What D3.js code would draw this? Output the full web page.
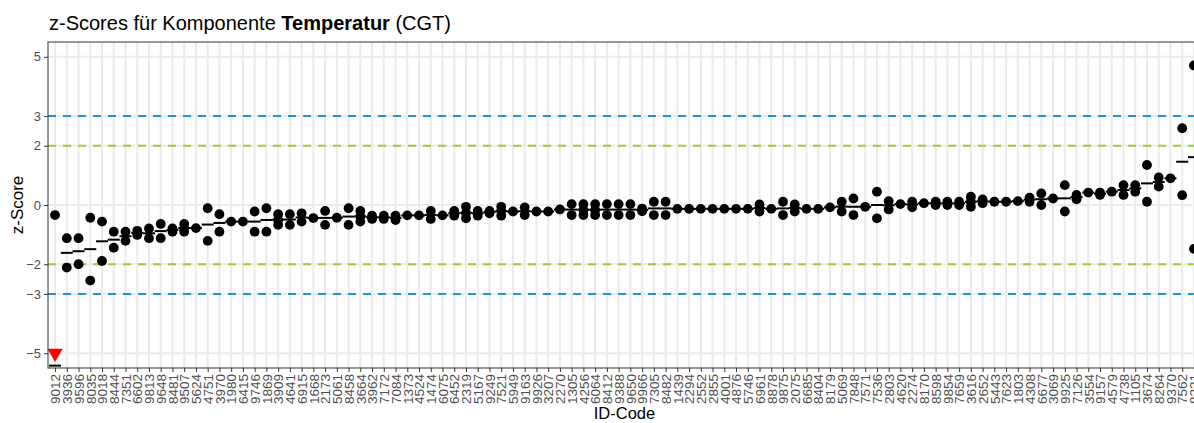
<!DOCTYPE html>
<html>
<head>
<meta charset="utf-8">
<script src="https://cdn.jsdelivr.net/npm/d3@7"></script>
<style>
  body { margin: 0; background: #fff; }
  svg { font-family: "Liberation Sans", Arial, sans-serif; }
</style>
</head>
<body>
<div id="chart"></div>
<script>
const ids = ["9012","3936","9596","8035","9018","8444","7351","6602","9813","9648",
  "8481","9507","5624","4751","3970","1980","6415","9746","1869","3909",
  "4641","6915","1668","2173","5061","8458","3664","3962","7172","7084",
  "1373","4524","1474","6075","6452","2319","5167","9249","7521","5949",
  "9163","9926","3207","2270","1305","4256","6064","8412","9388","9650",
  "9966","7305","8482","1439","2294","2552","2855","4001","4876","5746",
  "6961","8878","9875","2075","6685","8404","8179","5069","7848","7571",
  "7536","2803","4620","2274","8170","8598","9854","7659","3616","2652",
  "5443","7623","1803","4308","6677","3069","9925","7126","3554","9157",
  "4579","4738","1105","3674","8264","9370","7562","8231"];

// z-scores per ID-Code (one entry per measurement)
const zScores = [
  [-0.34, -10.5], [-1.12, -2.11], [-1.12, -2.0], [-0.43, -2.55], [-0.56, -1.89],
  [-0.90, -1.44], [-0.90, -1.21], [-0.87, -1.01], [-0.79, -1.12], [-0.64, -1.12],
  [-0.79, -0.90], [-0.64, -0.79, -0.90], [-0.78], [-0.11, -1.21], [-0.31, -0.90],
  [-0.56], [-0.56], [-0.22, -0.90], [-0.11, -0.90], [-0.31, -0.51, -0.67],
  [-0.31, -0.67], [-0.28, -0.56], [-0.44], [-0.20, -0.67], [-0.43],
  [-0.11, -0.67], [-0.20, -0.39, -0.56], [-0.36, -0.47], [-0.36, -0.47], [-0.36, -0.51],
  [-0.35], [-0.35], [-0.20, -0.47], [-0.35], [-0.20, -0.36],
  [-0.06, -0.28, -0.45], [-0.20, -0.36], [-0.20, -0.28], [-0.06, -0.20, -0.36], [-0.22],
  [-0.08, -0.34], [-0.22], [-0.22], [-0.15], [0.03, -0.34],
  [0.03, -0.17, -0.34], [0.03, -0.17, -0.34], [0.03, -0.34], [0.03, -0.34], [0.03, -0.34],
  [-0.12, -0.21], [0.11, -0.34], [0.11, -0.34], [-0.13], [-0.13],
  [-0.13], [-0.13], [-0.13], [-0.13], [-0.13],
  [0.02, -0.22], [-0.13], [0.11, -0.34], [0.02, -0.22], [-0.13],
  [-0.13], [-0.08], [0.11, -0.22], [0.22, -0.34], [-0.06],
  [0.45, -0.45], [0.13, -0.15], [0.03], [0.11, -0.08], [0.06],
  [0.11, 0.0], [0.11, 0.0], [0.11, 0.0], [0.28, 0.11, -0.06], [0.19, 0.06],
  [0.11], [0.11], [0.13], [0.25, 0.11], [0.39, 0.0],
  [0.22], [0.67, -0.22], [0.34, 0.19], [0.42], [0.42, 0.34],
  [0.45], [0.67, 0.34], [0.67, 0.45], [1.35, 0.11], [0.93, 0.62],
  [0.90], [2.59, 0.33], [4.71, -1.48]
];

const yTicks = [5, 3, 2, 0, -2, -3, -5];
const limitLines = [
  { value: 3, color: "#1b95dd" }, { value: -3, color: "#1b95dd" },
  { value: 2, color: "#9acd32" }, { value: -2, color: "#9acd32" }
];

const width = 1194, height = 423;
const panel = { left: 48, top: 42, right: 1201, bottom: 368 };

const svg = d3.select("#chart").append("svg")
  .attr("width", width)
  .attr("height", height);

const x = d3.scalePoint()
  .domain(ids)
  .range([panel.left, panel.right])
  .padding(0.6);

const y = d3.scaleLinear()
  .domain([-5.5, 5.5])
  .range([panel.bottom, panel.top]);

// gridlines
const grid = svg.append("g");
grid.selectAll("line.v").data(ids).join("line")
  .attr("x1", d => x(d)).attr("x2", d => x(d))
  .attr("y1", panel.top).attr("y2", panel.bottom)
  .attr("stroke", "#ebebeb").attr("stroke-width", 2);
grid.selectAll("line.h").data(yTicks).join("line")
  .attr("x1", panel.left).attr("x2", panel.right)
  .attr("y1", d => y(d)).attr("y2", d => y(d))
  .attr("stroke", "#ebebeb").attr("stroke-width", 2);

// limit lines
svg.append("g").selectAll("line").data(limitLines).join("line")
  .attr("x1", panel.left).attr("x2", panel.right)
  .attr("y1", d => y(d.value)).attr("y2", d => y(d.value))
  .attr("stroke", d => d.color)
  .attr("stroke-width", 2)
  .attr("stroke-dasharray", "8,7");

const points = ids.flatMap((id, i) => zScores[i].map(v => ({ id, v })));
const inRange = points.filter(d => d.v >= -5.5 && d.v <= 5.5);
const below = points.filter(d => d.v < -5.5);

const plot = svg.append("g");

// mean per ID
plot.selectAll("line.mean").data(ids).join("line")
  .attr("x1", d => x(d) - 6).attr("x2", d => x(d) + 6)
  .attr("y1", (d, i) => y(Math.max(-5.45, d3.mean(zScores[i]))))
  .attr("y2", (d, i) => y(Math.max(-5.45, d3.mean(zScores[i]))))
  .attr("stroke", "#000").attr("stroke-width", 2);

plot.selectAll("circle").data(inRange).join("circle")
  .attr("cx", d => x(d.id))
  .attr("cy", d => y(d.v))
  .attr("r", 4.9)
  .attr("fill", "#000");

plot.selectAll("path.out").data(below).join("path")
  .attr("d", d3.symbol(d3.symbolTriangle, 100))
  .attr("transform", d => `translate(${x(d.id)},${y(-5)}) rotate(180)`)
  .attr("fill", "#ff0000");

// panel border
svg.append("rect")
  .attr("x", panel.left).attr("y", panel.top)
  .attr("width", panel.right - panel.left)
  .attr("height", panel.bottom - panel.top)
  .attr("fill", "none").attr("stroke", "#333").attr("stroke-width", 1);

// axes
const yAxis = svg.append("g")
  .attr("transform", `translate(${panel.left},0)`)
  .call(d3.axisLeft(y).tickValues(yTicks).tickSize(4).tickPadding(3));
yAxis.select(".domain").remove();
yAxis.selectAll("line").attr("stroke", "#333");
yAxis.selectAll("text").attr("fill", "#4d4d4d").style("font-size", "13px")
  .style("font-family", "'Liberation Sans', Arial, sans-serif");

const xAxis = svg.append("g")
  .attr("transform", `translate(0,${panel.bottom})`)
  .call(d3.axisBottom(x).tickSize(4).tickPadding(3));
xAxis.select(".domain").remove();
xAxis.selectAll("line").attr("stroke", "#333");
xAxis.selectAll("text")
  .attr("fill", "#4d4d4d")
  .style("font-size", "13.5px")
  .style("font-family", "'Liberation Sans', Arial, sans-serif")
  .attr("text-anchor", "end")
  .attr("transform", "rotate(-90)")
  .attr("x", -6)
  .attr("y", 0)
  .attr("dy", "0.35em");

// titles
const title = svg.append("text")
  .attr("x", 49).attr("y", 30)
  .attr("font-size", 20)
  .attr("fill", "#000");
title.append("tspan").text("z-Scores für Komponente ");
title.append("tspan").attr("font-weight", "bold").text("Temperatur");
title.append("tspan").text(" (CGT)");

svg.append("text")
  .attr("transform", `translate(23,${(panel.top + panel.bottom) / 2}) rotate(-90)`)
  .attr("text-anchor", "middle")
  .attr("font-size", 17)
  .text("z-Score");

svg.append("text")
  .attr("x", (panel.left + panel.right) / 2)
  .attr("y", 419)
  .attr("text-anchor", "middle")
  .attr("font-size", 16.5)
  .text("ID-Code");
</script>
</body>
</html>
